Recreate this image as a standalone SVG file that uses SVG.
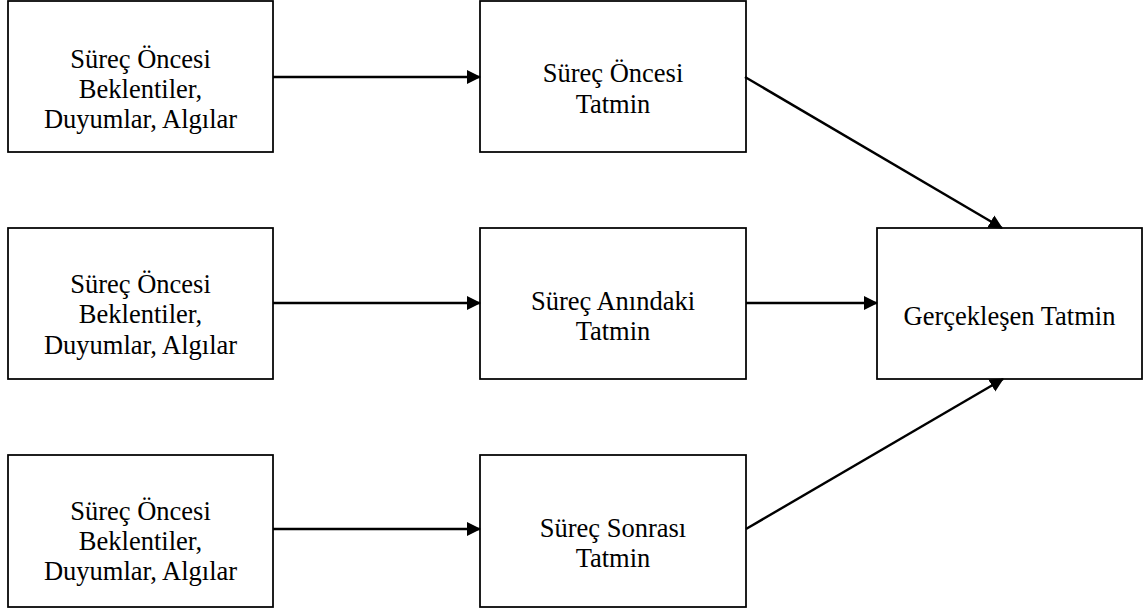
<svg xmlns="http://www.w3.org/2000/svg" width="1144" height="609" viewBox="0 0 1144 609">
<style>
  .box { fill: #ffffff; stroke: #000000; stroke-width: 1.75; }
  .lbl { font-family: "Liberation Serif", "Times New Roman", serif; font-size: 26.5px; fill: #000000; text-anchor: middle; }
  .conn { stroke: #000000; stroke-width: 2.4; fill: none; marker-end: url(#arr); }
</style>
<defs>
  <marker id="arr" markerUnits="userSpaceOnUse" markerWidth="16" markerHeight="16" refX="13" refY="7" orient="auto">
    <path d="M0,0 L14,7 L0,14 Z" fill="#000000"/>
  </marker>
</defs>
<rect width="1144" height="609" fill="#ffffff"/>

<g id="n-tl">
  <rect class="box" x="8" y="1" width="265" height="151"/>
  <text class="lbl" x="140.5" y="68">Süreç Öncesi</text>
  <text class="lbl" x="140.5" y="98">Beklentiler,</text>
  <text class="lbl" x="140.5" y="128">Duyumlar, Algılar</text>
</g>
<g id="n-ml">
  <rect class="box" x="8" y="228" width="265" height="151"/>
  <text class="lbl" x="140.5" y="293">Süreç Öncesi</text>
  <text class="lbl" x="140.5" y="323">Beklentiler,</text>
  <text class="lbl" x="140.5" y="354">Duyumlar, Algılar</text>
</g>
<g id="n-bl">
  <rect class="box" x="8" y="455" width="265" height="152"/>
  <text class="lbl" x="140.5" y="520">Süreç Öncesi</text>
  <text class="lbl" x="140.5" y="550">Beklentiler,</text>
  <text class="lbl" x="140.5" y="580">Duyumlar, Algılar</text>
</g>
<g id="n-tm">
  <rect class="box" x="480" y="1" width="266" height="151"/>
  <text class="lbl" x="613" y="82">Süreç Öncesi</text>
  <text class="lbl" x="613" y="113">Tatmin</text>
</g>
<g id="n-mm">
  <rect class="box" x="480" y="228" width="266" height="151"/>
  <text class="lbl" x="613" y="310">Süreç Anındaki</text>
  <text class="lbl" x="613" y="340">Tatmin</text>
</g>
<g id="n-bm">
  <rect class="box" x="480" y="455" width="266" height="152"/>
  <text class="lbl" x="613" y="537">Süreç Sonrası</text>
  <text class="lbl" x="613" y="567">Tatmin</text>
</g>
<g id="n-r">
  <rect class="box" x="877" y="228" width="265" height="151"/>
  <text class="lbl" x="1009.5" y="325">Gerçekleşen Tatmin</text>
</g>

<g id="connectors">
  <line class="conn" x1="273" y1="77" x2="480" y2="77"/>
  <line class="conn" x1="273" y1="303" x2="480" y2="303"/>
  <line class="conn" x1="273" y1="529" x2="480" y2="529"/>
  <line class="conn" x1="746" y1="303" x2="877" y2="303"/>
  <line class="conn" x1="745" y1="77" x2="1002" y2="228"/>
  <line class="conn" x1="746" y1="529" x2="1003" y2="379"/>
</g>
</svg>
